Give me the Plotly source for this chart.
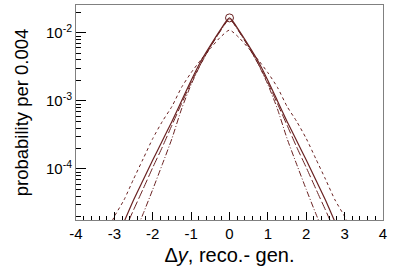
import plotly.graph_objects as go

# delta y grid
x_full = [-3.25, -3.0, -2.75, -2.5, -2.25, -2.0, -1.75, -1.5, -1.25, -1.0, -0.75, -0.5, -0.25,
          0.0, 0.25, 0.5, 0.75, 1.0, 1.25, 1.5, 1.75, 2.0, 2.25, 2.5, 2.75, 3.0, 3.25]

x_core = x_full[2:25]
x_dd = x_full[3:24]

# solid
solid = [1.66e-5, 3.5e-5, 6.9e-5, 1.35e-4, 2.6e-4, 5.0e-4, 1.0e-3, 2.0e-3, 3.8e-3, 6.5e-3, 1.08e-2,
         1.66e-2,
         1.08e-2, 6.5e-3, 3.8e-3, 2.0e-3, 1.0e-3, 5.0e-4, 2.6e-4, 1.35e-4, 6.9e-5, 3.5e-5, 1.66e-5]
# long dashed
longdash = [1.2e-5, 2.5e-5, 5.1e-5, 1.05e-4, 2.1e-4, 4.4e-4, 9.1e-4, 1.86e-3, 3.5e-3, 6.2e-3, 1.05e-2,
            1.62e-2,
            1.05e-2, 6.2e-3, 3.5e-3, 1.86e-3, 9.1e-4, 4.4e-4, 2.1e-4, 1.05e-4, 5.1e-5, 2.5e-5, 1.2e-5]
# dash-dot
dashdot = [1.0e-5, 2.2e-5, 5.0e-5, 1.17e-4, 2.8e-4, 7.6e-4, 1.74e-3, 3.47e-3, 6.2e-3, 1.04e-2,
           1.58e-2,
           1.04e-2, 6.2e-3, 3.47e-3, 1.74e-3, 7.6e-4, 2.8e-4, 1.17e-4, 5.0e-5, 2.2e-5, 1.0e-5]
# short dashed (widest)
shortdash = [1.0e-5, 2.0e-5, 3.5e-5, 7.1e-5, 1.41e-4, 2.8e-4, 5.0e-4, 8.3e-4, 1.58e-3, 2.6e-3, 4.0e-3,
             5.9e-3, 8.5e-3, 1.1e-2, 8.5e-3, 5.9e-3, 4.0e-3, 2.6e-3, 1.58e-3, 8.3e-4, 5.0e-4, 2.8e-4,
             1.41e-4, 7.1e-5, 3.5e-5, 2.0e-5, 1.0e-5]

peak_x = [0.0]
peak_y = [1.66e-2]

x_ticks = [-4, -3, -2, -1, 0, 1, 2, 3, 4]
x_labels = ["-4", "-3", "-2", "-1", "0", "1", "2", "3", "4"]

col = "#6a2222"

fig = go.Figure()
fig.add_trace(go.Scatter(x=x_full, y=shortdash, mode="lines", line_shape="spline",
                         line=dict(color=col, width=1, dash="3px,3px", smoothing=0.6)))
fig.add_trace(go.Scatter(x=x_dd, y=dashdot, mode="lines", line_shape="spline",
                         line=dict(color=col, width=1, dash="6px,2px,1px,2px", smoothing=0.6)))
fig.add_trace(go.Scatter(x=x_core, y=longdash, mode="lines", line_shape="spline",
                         line=dict(color=col, width=1, dash="9px,3px", smoothing=0.6)))
fig.add_trace(go.Scatter(x=x_core, y=solid, mode="lines", line_shape="spline",
                         line=dict(color=col, width=1.2, smoothing=0.6)))
fig.add_trace(go.Scatter(x=peak_x, y=peak_y, mode="markers",
                         marker=dict(symbol="circle-open", size=8, color=col, line=dict(width=1))))

fig.update_layout(
    width=399, height=270,
    margin=dict(l=76, r=16, t=5, b=50),
    plot_bgcolor="white", paper_bgcolor="white",
    showlegend=False,
    font=dict(family="Liberation Sans, Arial, sans-serif", color="black", size=15),
)
fig.update_xaxes(
    range=[-4, 4], tickvals=x_ticks, ticktext=x_labels,
    ticks="inside", ticklen=8, tickcolor="black",
    minor=dict(ticks="inside", ticklen=4, dtick=0.2, tickcolor="black"),
    showline=True, linecolor="#808080", mirror=True, showgrid=False, zeroline=False,
    tickfont=dict(size=15),
    title=dict(text="Δ<i>y</i>, reco.- gen.", font=dict(size=20), standoff=6),
)
fig.update_yaxes(
    type="log", range=[-4.75, -1.59],
    tickvals=[1e-4, 1e-3, 1e-2], ticktext=["10<sup>-4</sup>", "10<sup>-3</sup>", "10<sup>-2</sup>"],
    ticks="inside", ticklen=10, tickcolor="black",
    minor=dict(ticks="inside", ticklen=5, dtick="D1", tickcolor="black"),
    showline=True, linecolor="#808080", mirror=True, showgrid=False, zeroline=False,
    tickfont=dict(size=15),
    title=dict(text="probability per 0.004", font=dict(size=18.5), standoff=12),
)

fig.write_html("out.html", config={"displayModeBar": False},
               post_script="document.body.style.margin='0px';")
